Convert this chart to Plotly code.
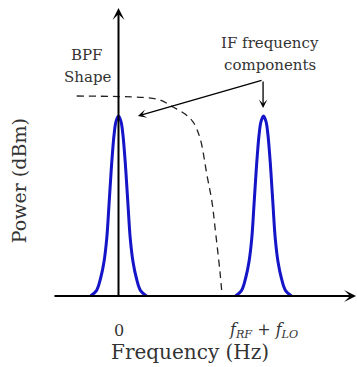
import plotly.graph_objects as go

# ---- data (normalized units: frequency 0 = baseband, 1 = f_RF + f_LO; power 1 = peak) ----
if_centers = [0.0, 1.0]
peak_offset = [0.0, 0.017, 0.030, 0.043, 0.051, 0.066, 0.081, 0.100, 0.123, 0.152, 0.193]
peak_power = [1.0, 0.97, 0.90, 0.78, 0.69, 0.50, 0.32, 0.19, 0.10, 0.03, 0.0]

bpf_freq = [-0.288, 0.0, 0.169, 0.286, 0.376, 0.459, 0.514, 0.562, 0.610, 0.645, 0.666, 0.700, 0.714]
bpf_power = [1.111, 1.108, 1.103, 1.089, 1.050, 1.011, 0.967, 0.878, 0.672, 0.522, 0.378, 0.133, 0.006]

tick_vals = [0.0, 1.0]
tick_text = ["0", "<i>f<sub>RF</sub></i> + <i>f<sub>LO</sub></i>"]

FONT = "DejaVu Serif"
TXT = "#333333"

fig = go.Figure()

# IF frequency components (mirrored peak shape)
for c in if_centers:
    xs = [c - o for o in reversed(peak_offset)] + [c + o for o in peak_offset[1:]]
    ys = list(reversed(peak_power)) + peak_power[1:]
    fig.add_trace(go.Scatter(x=xs, y=ys, mode="lines",
                             line=dict(color="#1414c8", width=3, shape="spline"),
                             hoverinfo="skip", showlegend=False))

# BPF shape
fig.add_trace(go.Scatter(x=bpf_freq, y=bpf_power, mode="lines",
                         line=dict(color="#222222", width=1.3, dash="7px,5px", shape="spline"),
                         hoverinfo="skip", showlegend=False))

ann = []
# axes with arrows
ann.append(dict(x=1.638, y=0, ax=-0.452, ay=0, xref="x", yref="y", axref="x", ayref="y",
                text="", showarrow=True, arrowhead=3, arrowsize=1.0, arrowwidth=2,
                arrowcolor="black", standoff=0, startstandoff=0))
ann.append(dict(x=0, y=1.6, ax=0, ay=-0.006, xref="x", yref="y", axref="x", ayref="y",
                text="", showarrow=True, arrowhead=3, arrowsize=1.0, arrowwidth=2,
                arrowcolor="black", standoff=0, startstandoff=0))
# callout arrows
ann.append(dict(x=0.134, y=1.0, ax=0.997, ay=1.2, xref="x", yref="y", axref="x", ayref="y",
                text="", showarrow=True, arrowhead=3, arrowsize=1.1, arrowwidth=1.3,
                arrowcolor="black", standoff=0, startstandoff=0))
ann.append(dict(x=0.997, y=1.044, ax=0.997, ay=1.2, xref="x", yref="y", axref="x", ayref="y",
                text="", showarrow=True, arrowhead=3, arrowsize=1.1, arrowwidth=1.3,
                arrowcolor="black", standoff=0, startstandoff=0))
# labels
def label(x, y, t, size, **kw):
    ann.append(dict(x=x, y=y, xref="x", yref="y", text=t, showarrow=False,
                    font=dict(family=FONT, size=size, color=TXT), **kw))

label(-0.217, 1.339, "BPF", 15)
label(-0.217, 1.215, "Shape", 15)
label(1.048, 1.405, "IF frequency", 15)
label(1.048, 1.285, "components", 15)
for v, t in zip(tick_vals, tick_text):
    label(v, -0.19, t, 16)
label(0.495, -0.31, "Frequency (Hz)", 20)
label(-0.69, 0.64, "Power (dBm)", 19, textangle=-90)

fig.update_layout(
    width=357, height=367,
    margin=dict(l=0, r=0, t=0, b=0),
    paper_bgcolor="white", plot_bgcolor="white",
    xaxis=dict(range=[-0.8172, 1.6448], visible=False, fixedrange=True),
    yaxis=dict(range=[-0.3944, 1.6444], visible=False, fixedrange=True),
    annotations=ann,
    showlegend=False,
)

fig.write_html("out.html")
